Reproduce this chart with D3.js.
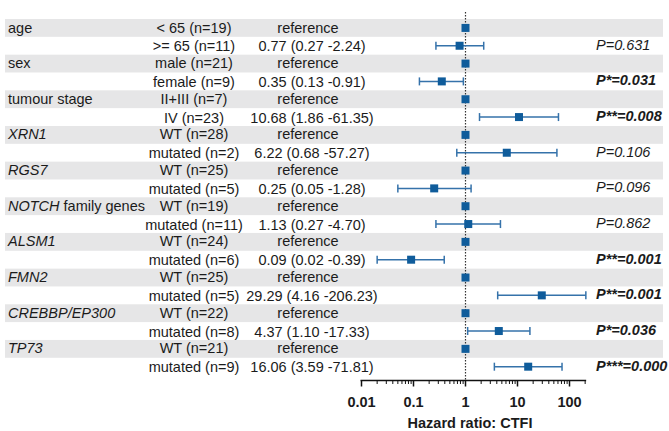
<!DOCTYPE html>
<html>
<head>
<meta charset="utf-8">
<script src="https://cdn.jsdelivr.net/npm/d3@7"></script>
<style>
  body { margin: 0; background: #fff; }
  svg { display: block; font-family: "Liberation Sans", Arial, sans-serif; }
</style>
</head>
<body>
<svg id="forest" width="669" height="431"></svg>
<script>
// variable names (one per pair of rows); genes are drawn in italic
const groups = ["age", "sex", "tumour stage", "XRN1", "RGS7", "NOTCH", "ALSM1", "FMN2", "CREBBP/EP300", "TP73"];
const groupSuffix = ["", "", "", "", "", " family genes", "", "", "", ""];
const groupItalic = [false, false, false, true, true, true, true, true, true, true];

const refLabels = ["< 65 (n=19)", "male (n=21)", "II+III (n=7)", "WT (n=28)", "WT (n=25)", "WT (n=19)", "WT (n=24)", "WT (n=25)", "WT (n=22)", "WT (n=21)"];
const cmpLabels = [">= 65 (n=11)", "female (n=9)", "IV (n=23)", "mutated (n=2)", "mutated (n=5)", "mutated (n=11)", "mutated (n=6)", "mutated (n=5)", "mutated (n=8)", "mutated (n=9)"];

const hr = [0.77, 0.35, 10.68, 6.22, 0.25, 1.13, 0.09, 29.29, 4.37, 16.06];
const lo = [0.27, 0.13, 1.86, 0.68, 0.05, 0.27, 0.02, 4.16, 1.10, 3.59];
const hi = [2.24, 0.91, 61.35, 57.27, 1.28, 4.70, 0.39, 206.23, 17.33, 71.81];

const pLabels = ["P=0.631", "P*=0.031", "P**=0.008", "P=0.106", "P=0.096", "P=0.862", "P**=0.001", "P**=0.001", "P*=0.036", "P***=0.000"];
const pBold = [false, true, true, false, false, false, true, true, true, true];

const majorTicks = [0.01, 0.1, 1, 10, 100];

const svg = d3.select("#forest");
const textColor = "#1b1b1b";
const markColor = "#0f5c9b";
const barColor = "#3572aa";
const fs = 14.5;

// rows: two per group (reference row, compared row)
const rows = d3.range(groups.length * 2);
const y = d3.scaleBand().domain(rows).range([19, 375.6]);

const x = d3.scaleLog().domain([0.01, 100]).range([361.5, 569.5]);
const axisY = 380.5;

// gray bands behind reference rows
svg.append("g")
  .selectAll("rect")
  .data(groups)
  .join("rect")
  .attr("x", 5)
  .attr("width", 658)
  .attr("y", (d, i) => y(i * 2))
  .attr("height", y.bandwidth())
  .attr("fill", "#e6e6e7");

// dotted line at HR = 1
svg.append("line")
  .attr("x1", x(1)).attr("x2", x(1))
  .attr("y1", 12).attr("y2", axisY)
  .attr("stroke", "#333")
  .attr("stroke-width", 1.2)
  .attr("stroke-dasharray", "1.5,1.5");

const txt = svg.append("g").attr("font-size", fs).attr("fill", textColor);

// variable names
const gName = txt.selectAll("text.group")
  .data(groups)
  .join("text")
  .attr("class", "group")
  .attr("x", 8)
  .attr("y", (d, i) => y(i * 2) + 13.5);
gName.append("tspan")
  .attr("font-style", (d, i) => groupItalic[i] ? "italic" : "normal")
  .text(d => d);
gName.append("tspan")
  .text((d, i) => groupSuffix[i]);

// subgroup labels
txt.selectAll("text.ref")
  .data(refLabels)
  .join("text")
  .attr("class", "ref")
  .attr("x", 194)
  .attr("y", (d, i) => y(i * 2) + 13.5)
  .attr("text-anchor", "middle")
  .text(d => d);

txt.selectAll("text.cmp")
  .data(cmpLabels)
  .join("text")
  .attr("class", "cmp")
  .attr("x", 194)
  .attr("y", (d, i) => y(i * 2 + 1) + 14.5)
  .attr("text-anchor", "middle")
  .text(d => d);

// HR text column
txt.selectAll("text.refhr")
  .data(groups)
  .join("text")
  .attr("class", "refhr")
  .attr("x", 308)
  .attr("y", (d, i) => y(i * 2) + 13.5)
  .attr("text-anchor", "middle")
  .text("reference");

const fmt = d3.format(".2f");
txt.selectAll("text.hr")
  .data(hr)
  .join("text")
  .attr("class", "hr")
  .attr("x", 312)
  .attr("y", (d, i) => y(i * 2 + 1) + 14.5)
  .attr("text-anchor", "middle")
  .text((d, i) => `${fmt(d)} (${fmt(lo[i])} -${fmt(hi[i])})`);

// P values
txt.selectAll("text.p")
  .data(pLabels)
  .join("text")
  .attr("class", "p")
  .attr("x", 596)
  .attr("y", (d, i) => y(i * 2 + 1) + 13)
  .attr("font-style", "italic")
  .attr("font-weight", (d, i) => pBold[i] ? "bold" : "normal")
  .text(d => d);

// confidence intervals
const ci = svg.append("g")
  .attr("stroke", barColor)
  .attr("stroke-width", 1.5)
  .selectAll("g")
  .data(hr)
  .join("g")
  .attr("transform", (d, i) => `translate(0,${y(i * 2 + 1) + y.bandwidth() / 2})`);
ci.append("line")
  .attr("x1", (d, i) => x(lo[i]))
  .attr("x2", (d, i) => x(hi[i]));
ci.append("line")
  .attr("x1", (d, i) => x(lo[i])).attr("x2", (d, i) => x(lo[i]))
  .attr("y1", -4).attr("y2", 4);
ci.append("line")
  .attr("x1", (d, i) => x(hi[i])).attr("x2", (d, i) => x(hi[i]))
  .attr("y1", -4).attr("y2", 4);

// point estimates
const sq = 8;
svg.append("g")
  .selectAll("rect")
  .data(hr)
  .join("rect")
  .attr("x", d => x(d) - sq / 2)
  .attr("y", (d, i) => y(i * 2 + 1) + y.bandwidth() / 2 - sq / 2)
  .attr("width", sq).attr("height", sq)
  .attr("fill", markColor);

// reference markers at 1
svg.append("g")
  .selectAll("rect")
  .data(groups)
  .join("rect")
  .attr("x", x(1) - sq / 2)
  .attr("y", (d, i) => y(i * 2) + y.bandwidth() / 2 - sq / 2)
  .attr("width", sq).attr("height", sq)
  .attr("fill", markColor);

// x axis (log, with minor ticks)
const minorTicks = [];
majorTicks.forEach(m => {
  d3.range(2, 10).forEach(k => { if (m * k <= 200) minorTicks.push(m * k); });
});

const ax = svg.append("g").attr("transform", `translate(0,${axisY})`);
ax.append("line")
  .attr("x1", x(0.01) - 1).attr("x2", x(200) + 1)
  .attr("stroke", "#111").attr("stroke-width", 1.5);
ax.selectAll("line.minor")
  .data(minorTicks)
  .join("line")
  .attr("class", "minor")
  .attr("x1", d => x(d)).attr("x2", d => x(d))
  .attr("y1", 0).attr("y2", 3.5)
  .attr("stroke", "#111").attr("stroke-width", 1);
ax.selectAll("line.major")
  .data(majorTicks)
  .join("line")
  .attr("class", "major")
  .attr("x1", d => x(d)).attr("x2", d => x(d))
  .attr("y1", 0).attr("y2", 6)
  .attr("stroke", "#111").attr("stroke-width", 1.5);
ax.selectAll("text")
  .data(majorTicks)
  .join("text")
  .attr("x", d => x(d))
  .attr("y", 26.5)
  .attr("text-anchor", "middle")
  .attr("font-size", fs)
  .attr("font-weight", "bold")
  .attr("fill", textColor)
  .text(d => d3.format("~g")(d));

svg.append("text")
  .attr("x", 470)
  .attr("y", 428)
  .attr("text-anchor", "middle")
  .attr("font-size", fs)
  .attr("font-weight", "bold")
  .attr("fill", textColor)
  .text("Hazard ratio: CTFI");
</script>
</body>
</html>
